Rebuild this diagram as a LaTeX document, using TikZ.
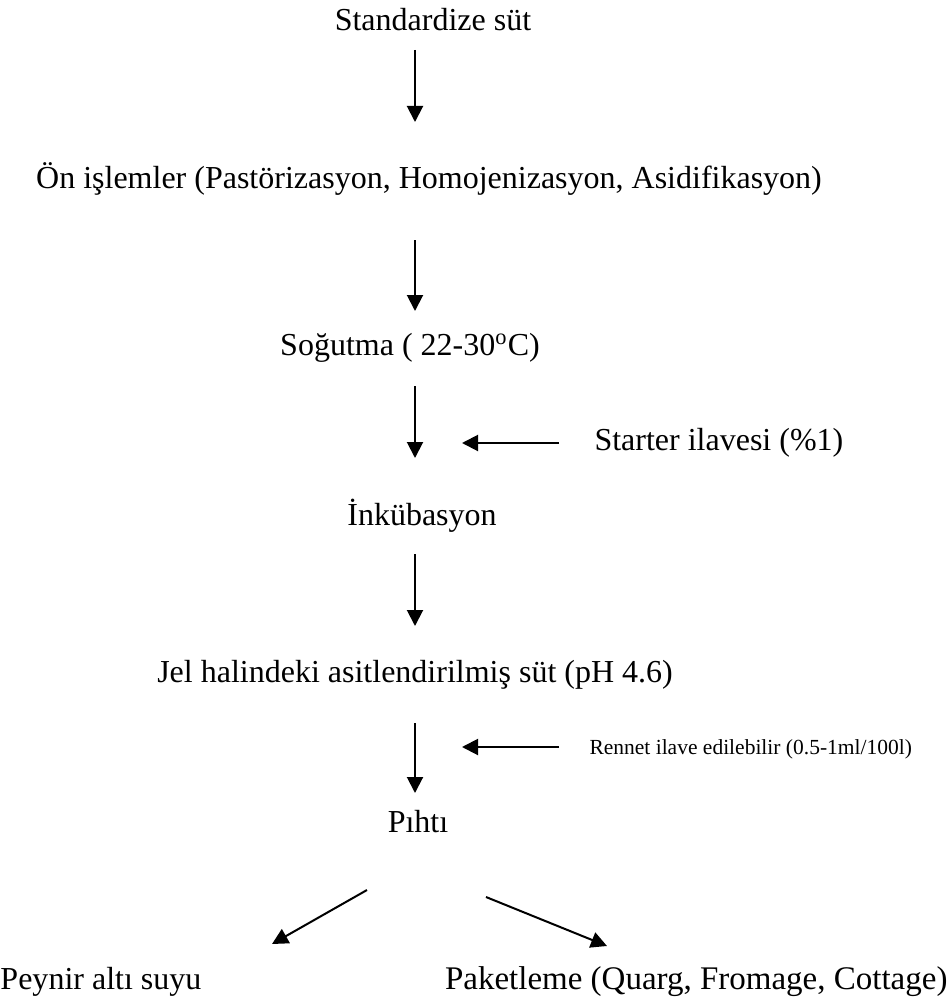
\documentclass[tikz,border=0pt]{standalone}
\usepackage{fontspec}
\setmainfont{Liberation Serif}
\usetikzlibrary{arrows.meta}
\begin{document}
\begin{tikzpicture}[x=0.4pt,y=-0.4pt,
  lbl/.style={inner sep=0pt,font=\fontsize{12.8}{15}\selectfont},
  small/.style={inner sep=0pt,font=\fontsize{8.6}{10}\selectfont},
  flow/.style={line width=0.8pt,-{Triangle[width=6.4pt,length=6.4pt]}}]
\useasboundingbox (0,0) rectangle (949,1006);
\node[lbl] (n1) at (433,20) {Standardize süt};
\node[lbl] (n2) at (429,179) {Ön işlemler (Pastörizasyon, Homojenizasyon, Asidifikasyon)};
\node[lbl] (n3) at (410,348) {Soğutma ( 22-30\textsuperscript{o}C)};
\node[lbl,anchor=west] (s1) at (594,443) {Starter ilavesi (\%1)};
\node[lbl] (n4) at (422,516) {İnkübasyon};
\node[lbl] (n5) at (415,675) {Jel halindeki asitlendirilmiş süt (pH 4.6)};
\node[small,anchor=west] (s2) at (589,749) {Rennet ilave edilebilir (0.5-1ml/100l)};
\node[lbl] (n6) at (418,822) {Pıhtı};
\node[lbl,anchor=west] (n7) at (0,982) {Peynir altı suyu};
\node[lbl,anchor=east,font=\fontsize{13.2}{15}\selectfont] (n8) at (948,982) {Paketleme (Quarg, Fromage, Cottage)};
\coordinate (a1s) at (415,50);  \coordinate (a1e) at (415,122);
\coordinate (a2s) at (415,240); \coordinate (a2e) at (415,311);
\coordinate (a3s) at (415,386); \coordinate (a3e) at (415,458);
\coordinate (h1s) at (559,443); \coordinate (h1e) at (462,443);
\coordinate (a4s) at (415,554); \coordinate (a4e) at (415,626);
\coordinate (a5s) at (415,723); \coordinate (a5e) at (415,793);
\coordinate (h2s) at (559,747); \coordinate (h2e) at (462,747);
\coordinate (d1s) at (367,890); \coordinate (d1e) at (272,944);
\coordinate (d2s) at (486,897); \coordinate (d2e) at (607,946);
\draw[flow] (a1s) -- (a1e);
\draw[flow] (a2s) -- (a2e);
\draw[flow] (a3s) -- (a3e);
\draw[flow] (h1s) -- (h1e);
\draw[flow] (a4s) -- (a4e);
\draw[flow] (a5s) -- (a5e);
\draw[flow] (h2s) -- (h2e);
\draw[flow] (d1s) -- (d1e);
\draw[flow] (d2s) -- (d2e);
\end{tikzpicture}
\end{document}
